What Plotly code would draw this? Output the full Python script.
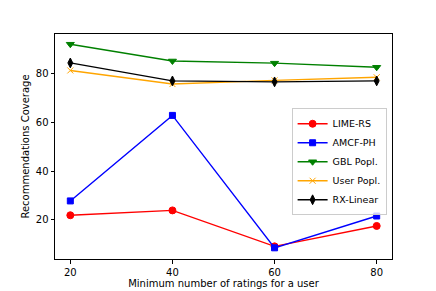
import plotly.graph_objects as go

x_vals = [20, 40, 60, 80]
lime_rs = [21.8, 23.8, 9.0, 17.4]
amcf_ph = [27.7, 62.9, 8.4, 21.5]
gbl_popl = [92.2, 85.3, 84.4, 82.7]
user_popl = [81.4, 75.8, 77.3, 78.6]
rx_linear = [84.5, 77.1, 76.7, 77.1]

series = [
    ("LIME-RS", lime_rs, "red", "circle", 7),
    ("AMCF-PH", amcf_ph, "blue", "square", 6),
    ("GBL Popl.", gbl_popl, "green", "triangle-down", 7),
    ("User Popl.", user_popl, "orange", "x-thin", 6),
    ("RX-Linear", rx_linear, "black", "diamond-tall", 7),
]

fig = go.Figure()
for name, ys, color, sym, size in series:
    fig.add_trace(go.Scatter(
        x=x_vals, y=ys, name=name, mode="lines+markers",
        line=dict(color=color, width=1.4),
        marker=dict(symbol=sym, size=size, color=color,
                    line=dict(color=color, width=1)),
    ))

axis_common = dict(
    showline=True, linecolor="black", linewidth=1, mirror=True,
    ticks="outside", ticklen=3.5, tickwidth=0.8, tickcolor="black",
    showgrid=False, zeroline=False, automargin=False,
    tickfont=dict(family="DejaVu Sans", size=10, color="black"),
)

# page body has an 8px margin, so the figure is sized to fit the window
fig.update_layout(
    width=428, height=283,
    margin=dict(l=46.5, r=44, t=25.5, b=32, autoexpand=False),
    paper_bgcolor="white", plot_bgcolor="white",
    font=dict(family="DejaVu Sans", size=10, color="black"),
    xaxis=dict(range=[17, 83], tickvals=[20, 40, 60, 80],
               title=dict(text="Minimum number of ratings for a user", standoff=2,
                          font=dict(size=10)),
               **axis_common),
    yaxis=dict(range=[3.8, 96.4], tickvals=[20, 40, 60, 80],
               title=dict(text="Recommendations Coverage", standoff=4,
                          font=dict(size=10)),
               **axis_common),
    legend=dict(x=0.984, y=0.670, xanchor="right", yanchor="top",
                bgcolor="rgba(255,255,255,0.8)", bordercolor="#cccccc",
                borderwidth=1, font=dict(size=9.5),
                tracegroupgap=0, itemwidth=30),
    showlegend=True,
)

fig.write_html("out.html")
